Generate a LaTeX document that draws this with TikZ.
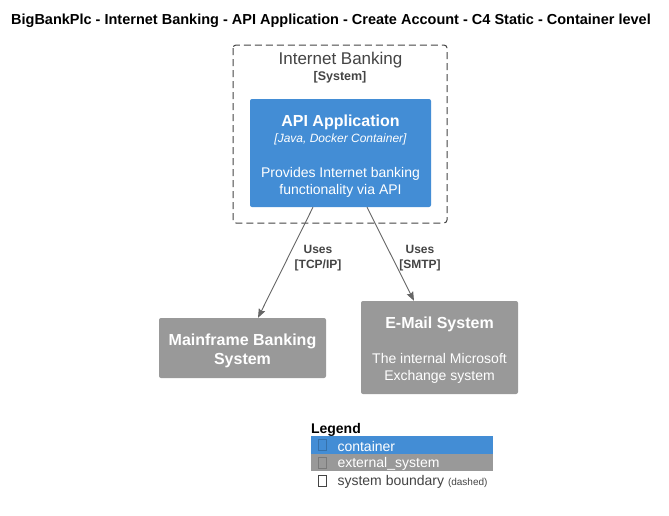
\documentclass[tikz,border=0pt]{standalone}
\usepackage{fontspec}
\setmainfont{Liberation Sans}
\usetikzlibrary{arrows.meta}
\definecolor{ContainerBlue}{HTML}{438DD5}
\definecolor{ExtGrey}{HTML}{999999}
\definecolor{TextGrey}{HTML}{444444}
\definecolor{RelGrey}{HTML}{666666}
\newcommand{\topgap}{\rule{0pt}{17pt}}

\begin{document}
\begin{tikzpicture}[x=1pt, y=-1pt, font=\fontsize{14}{17}\selectfont,
  box/.style={rounded corners=2pt, text=white, align=center, inner sep=0pt},
  rel/.style={color=RelGrey, line width=0.9pt, -{Stealth[length=9pt,width=7pt,inset=1.5pt]}},
  rellabel/.style={text=TextGrey, font=\bfseries\fontsize{12}{15}\selectfont, align=center}]
	\useasboundingbox[fill=white] (0,0) rectangle (669,515);
	\node[font=\bfseries\fontsize{14.5}{17}\selectfont] (title) at (331,21) {BigBankPlc - Internet Banking - API Application - Create Account - C4 Static - Container level};
	% boundary
	\draw[color=TextGrey, line width=1pt, dash pattern=on 7pt off 4pt, rounded corners=3pt] (233,45) rectangle (447,223);
	\node[text=TextGrey, font=\fontsize{17}{20}\selectfont] (ib) at (340.5,60) {Internet Banking};
	\node[text=TextGrey, font=\bfseries\fontsize{12.5}{15}\selectfont] (ibtype) at (340,77) {[System]};
	% containers and systems
	\node[box, fill=ContainerBlue, minimum width=181pt, minimum height=108pt] (api) at (340.5,153) {{\bfseries\fontsize{16}{19}\selectfont\topgap API Application}\\[-1pt]{\itshape\fontsize{12}{14}\selectfont [Java, Docker Container]}\\[18pt]Provides Internet banking\\functionality via API};
	\node[box, fill=ExtGrey, minimum width=167pt, minimum height=60pt, font=\bfseries\fontsize{16}{19}\selectfont] (mainframe) at (242.5,348) {\topgap Mainframe Banking\\System};
	\node[box, fill=ExtGrey, minimum width=157pt, minimum height=93pt] (email) at (439.5,347.5) {{\bfseries\fontsize{16}{19}\selectfont\topgap E-Mail System}\\[18pt]The internal Microsoft\\Exchange system};
	% relations
	\draw[rel] ([xshift=-27.5pt]api.south) -- ([xshift=15.5pt]mainframe.north);
	\draw[rel] ([xshift=26.5pt]api.south) -- ([xshift=-25.5pt]email.north);
	\node[rellabel] (usestcp) at (318,258.5) {Uses\\{}[TCP/IP]};
	\node[rellabel] (usessmtp) at (420,258.5) {Uses\\{}[SMTP]};
	% legend
	\node[anchor=west, font=\bfseries\fontsize{14}{17}\selectfont] (legend) at (307.5,430) {Legend};
	\fill[ContainerBlue] (311,436) rectangle (493,453.5);
	\fill[ExtGrey] (311,453.5) rectangle (493,471);
	\foreach \y/\col in {445/ContainerBlue!80!black, 462.5/ExtGrey!80!black, 481/TextGrey}
	  \draw[color=\col, line width=0.6pt] (318.5,\y-5.5) rectangle (326.5,\y+5.5);
	\node[anchor=west, text=white] (lgcont) at (334,446) {container};
	\node[anchor=west, text=white] (lgext) at (334,463.5) {external\_system};
	\node[anchor=west, text=TextGrey] (lgbound) at (334,482) {system boundary {\fontsize{10}{12}\selectfont(dashed)}};
\end{tikzpicture}
\end{document}
